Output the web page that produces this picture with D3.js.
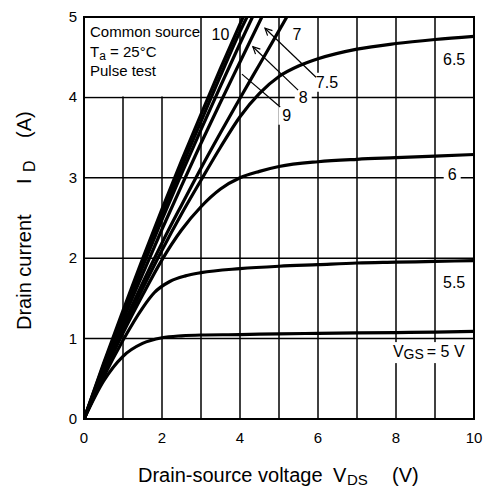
<!DOCTYPE html>
<html>
<head>
<meta charset="utf-8">
<script src="https://cdn.jsdelivr.net/npm/d3@7"></script>
<style>
  body { margin: 0; background: #fff; }
  text { font-family: "Liberation Sans", Arial, Helvetica, sans-serif; fill: #000; }
</style>
</head>
<body>
<div id="chart"></div>
<script>
// Axis ticks
var xTicks = [0, 2, 4, 6, 8, 10];
var yTicks = [0, 1, 2, 3, 4, 5];

// Output curves: [VDS (V), ID (A)]
var id_5   = [[0,0],[0.5,0.47],[1,0.78],[1.5,0.94],[2,1.01],[2.5,1.035],[3,1.045],[4,1.05],[5,1.06],[6,1.065],[7,1.07],[8,1.075],[9,1.08],[10,1.09]];
var id_5_5 = [[0,0],[0.5,0.52],[1,0.98],[1.5,1.38],[1.8,1.57],[2.2,1.71],[2.6,1.78],[3,1.82],[4,1.87],[5,1.9],[6,1.92],[7,1.94],[8,1.95],[9,1.96],[10,1.97]];
var id_6   = [[0,0],[0.5,0.56],[1,1.07],[1.5,1.54],[2,1.98],[2.5,2.35],[3,2.64],[3.5,2.86],[4,3.0],[4.5,3.08],[5,3.14],[6,3.2],[7,3.23],[8,3.25],[9,3.27],[10,3.29]];
var id_6_5 = [[0,0],[0.5,0.58],[1,1.12],[1.5,1.62],[2,2.1],[2.5,2.55],[3,2.97],[3.5,3.38],[4,3.76],[4.5,4.05],[5,4.26],[5.5,4.39],[6,4.48],[7,4.6],[8,4.67],[9,4.72],[10,4.76]];
var id_7   = [[0,0],[0.5,0.6],[1,1.16],[1.5,1.69],[2,2.19],[2.5,2.66],[3,3.12],[3.5,3.56],[4,3.99],[4.5,4.41],[5,4.83],[5.2,5.0]];
var id_7_5 = [[0,0],[0.5,0.63],[1,1.23],[1.5,1.8],[2,2.36],[2.5,2.9],[3,3.43],[3.5,3.94],[4,4.44],[4.56,5.0]];
var id_8   = [[0,0],[0.5,0.65],[1,1.28],[1.5,1.89],[2,2.48],[2.5,3.05],[3,3.6],[3.5,4.14],[4,4.67],[4.32,5.0]];
var id_9   = [[0,0],[0.5,0.67],[1,1.31],[1.5,1.94],[2,2.54],[2.5,3.13],[3,3.7],[3.5,4.27],[4,4.82],[4.18,5.0]];
var id_10  = [[0,0],[0.5,0.69],[1,1.35],[1.5,1.99],[2,2.61],[2.5,3.21],[3,3.79],[3.5,4.36],[4.08,5.0]];

var curves = [id_5, id_5_5, id_6, id_6_5, id_7, id_7_5, id_8, id_9, id_10];

var margin = { top: 17, right: 10, bottom: 71, left: 84 },
  width = 484 - margin.left - margin.right,
  height = 490 - margin.top - margin.bottom;

var svg = d3.select("#chart")
  .append("svg")
  .attr("width", 484)
  .attr("height", 490);

var defs = svg.append("defs");
defs.append("clipPath").attr("id", "plot-clip")
  .append("rect").attr("width", width).attr("height", height);
defs.append("marker")
  .attr("id", "arrow")
  .attr("viewBox", "-8 -5 10 10")
  .attr("refX", 0).attr("refY", 0)
  .attr("markerUnits", "userSpaceOnUse")
  .attr("markerWidth", 10).attr("markerHeight", 10)
  .attr("orient", "auto")
  .append("path")
  .attr("d", "M-7,-3.5L0,0L-7,3.5")
  .attr("fill", "none")
  .attr("stroke", "#000")
  .attr("stroke-width", 1.2);

var g = svg.append("g")
  .attr("transform", "translate(" + margin.left + "," + margin.top + ")");

var x = d3.scaleLinear().domain([0, 10]).range([0, width]);
var y = d3.scaleLinear().domain([0, 5]).range([height, 0]);

// grid every 1 V / 1 A
g.append("g").selectAll("line.v")
  .data(d3.range(1, 10))
  .enter().append("line")
  .attr("x1", function(d) { return x(d); })
  .attr("x2", function(d) { return x(d); })
  .attr("y1", 0).attr("y2", height)
  .attr("stroke", "#000").attr("stroke-width", 1.5);

g.append("g").selectAll("line.h")
  .data(d3.range(1, 5))
  .enter().append("line")
  .attr("y1", function(d) { return y(d); })
  .attr("y2", function(d) { return y(d); })
  .attr("x1", 0).attr("x2", width)
  .attr("stroke", "#000").attr("stroke-width", 1.5);

// white legend box in the upper-left cell block
g.append("rect")
  .attr("x", x(0) + 1).attr("y", y(5) + 1)
  .attr("width", x(3) - x(0) - 2)
  .attr("height", y(4) - y(5) - 2)
  .attr("fill", "#fff");

var legend = g.append("g").attr("font-size", 15);
legend.append("text").attr("x", 6).attr("y", 20).text("Common source");
var ta = legend.append("text").attr("x", 6).attr("y", 40);
ta.append("tspan").text("T");
ta.append("tspan").attr("font-size", 12).attr("dy", 3).text("a");
ta.append("tspan").attr("dy", -3).text(" = 25°C");
legend.append("text").attr("x", 6).attr("y", 59).text("Pulse test");

// curve labels (some knock out the grid behind them)
var labelLayer = g.append("g");
var curveLabels = [
  { t: "10",  v: 3.5,  i: 4.71, knock: false },
  { t: "7",   v: 5.46, i: 4.71, knock: false },
  { t: "7.5", v: 6.23, i: 4.12, knock: true },
  { t: "8",   v: 5.62, i: 3.93, knock: true },
  { t: "9",   v: 5.2,  i: 3.71, knock: true },
  { t: "6.5", v: 9.49, i: 4.40, knock: false },
  { t: "6",   v: 9.44, i: 2.97, knock: true },
  { t: "5.5", v: 9.49, i: 1.63, knock: false }
];

curveLabels.forEach(function(d) {
  var bg = labelLayer.append("rect").attr("fill", "#fff");
  var t = labelLayer.append("text")
    .attr("x", x(d.v)).attr("y", y(d.i))
    .attr("text-anchor", "middle")
    .attr("font-size", 16)
    .text(d.t);
  if (d.knock) {
    var b = t.node().getBBox();
    bg.attr("x", b.x - 4).attr("y", b.y - 1)
      .attr("width", b.width + 8).attr("height", b.height + 2);
  } else {
    bg.remove();
  }
});

var vgs = labelLayer.append("text")
  .attr("x", x(7.92)).attr("y", y(0.77))
  .attr("font-size", 16);
vgs.append("tspan").text("V");
vgs.append("tspan").attr("font-size", 14).attr("dy", 2).text("GS");
vgs.append("tspan").attr("dy", -2).attr("dx", 3).text("= 5 V");
var vb = vgs.node().getBBox();
labelLayer.insert("rect", "text:last-child")
  .attr("x", vb.x - 8).attr("y", vb.y - 1)
  .attr("width", vb.width + 14).attr("height", vb.height + 2)
  .attr("fill", "#fff");

// curves
var line = d3.line()
  .x(function(d) { return x(d[0]); })
  .y(function(d) { return y(d[1]); })
  .curve(d3.curveMonotoneX);

g.append("g")
  .attr("clip-path", "url(#plot-clip)")
  .selectAll("path")
  .data(curves)
  .enter().append("path")
  .attr("d", line)
  .attr("fill", "none")
  .attr("stroke", "#000")
  .attr("stroke-width", 3.2)
  .attr("stroke-linejoin", "round");

// leader lines from labels to curves
var leaders = [
  { from: [5.95, 4.25], to: [4.64, 4.86], arrow: true },
  { from: [5.49, 4.09], to: [4.33, 4.63], arrow: true },
  { from: [5.03, 3.88], to: [4.05, 4.29], arrow: false }
];
g.append("g").selectAll("line")
  .data(leaders)
  .enter().append("line")
  .attr("x1", function(d) { return x(d.from[0]); })
  .attr("y1", function(d) { return y(d.from[1]); })
  .attr("x2", function(d) { return x(d.to[0]); })
  .attr("y2", function(d) { return y(d.to[1]); })
  .attr("stroke", "#000")
  .attr("stroke-width", 1.2)
  .attr("marker-end", function(d) { return d.arrow ? "url(#arrow)" : null; });

// frame
g.append("rect")
  .attr("width", width).attr("height", height)
  .attr("fill", "none")
  .attr("stroke", "#000")
  .attr("stroke-width", 2);

// tick labels
g.append("g").selectAll("text")
  .data(xTicks)
  .enter().append("text")
  .attr("x", function(d) { return x(d); })
  .attr("y", height + 24)
  .attr("text-anchor", "middle")
  .attr("font-size", 15)
  .text(function(d) { return d; });

g.append("g").selectAll("text")
  .data(yTicks)
  .enter().append("text")
  .attr("x", -7)
  .attr("y", function(d) { return y(d) + 5; })
  .attr("text-anchor", "end")
  .attr("font-size", 15)
  .text(function(d) { return d; });

// axis titles
var xt = svg.append("g").attr("font-size", 20);
xt.append("text").attr("x", 138).attr("y", 482).text("Drain-source voltage");
xt.append("text").attr("x", 333).attr("y", 482).text("V");
xt.append("text").attr("x", 347).attr("y", 485).attr("font-size", 15).text("DS");
xt.append("text").attr("x", 392).attr("y", 482).text("(V)");

var yt = svg.append("g").attr("font-size", 20)
  .attr("transform", "translate(31,0) rotate(-90)");
yt.append("text").attr("x", -330).attr("y", 0).text("Drain current");
yt.append("text").attr("x", -184).attr("y", 0).text("I");
yt.append("text").attr("x", -172).attr("y", 4).attr("font-size", 16).text("D");
yt.append("text").attr("x", -138).attr("y", 0).text("(A)");
</script>
</body>
</html>
